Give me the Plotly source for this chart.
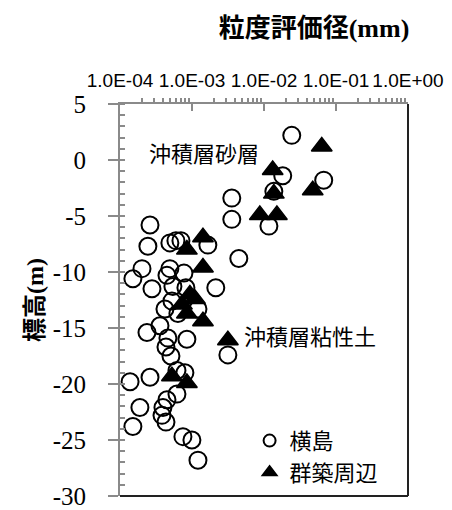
import plotly.graph_objects as go

# ---- data ----
yokoshima_x = [0.0243, 0.0182, 0.0675, 0.0137, 0.00357, 0.00357, 0.0117, 0.000261, 0.000244, 0.000493,
               0.000598, 0.000702, 0.00166, 0.00447, 0.000202, 0.000151, 0.000278, 0.000493, 0.000449, 0.000773,
               0.000823, 0.00214, 0.000543, 0.000526, 0.000421, 0.000637, 0.00121, 0.000237, 0.000359, 0.000463,
               0.000849, 0.000435, 0.000510, 0.00315, 0.000618, 0.000138, 0.000261, 0.000797, 0.000618, 0.000449,
               0.000189, 0.000395, 0.000383, 0.000435, 0.000151, 0.000748, 0.000997, 0.00121]
yokoshima_y = [2.2, -1.4, -1.8, -2.8, -3.4, -5.3, -5.9, -5.8, -7.7, -7.4,
               -7.2, -7.2, -7.6, -8.8, -9.7, -10.6, -11.5, -9.7, -10.3, -10.1,
               -11.4, -11.4, -11.3, -12.6, -13.3, -13.7, -13.3, -15.4, -14.8, -15.9,
               -16.0, -16.7, -17.5, -17.4, -18.8, -19.8, -19.4, -19.0, -20.9, -21.4,
               -22.1, -22.1, -22.8, -23.4, -23.8, -24.7, -25.0, -26.8]

gunchiku_x = [0.0634, 0.0132, 0.0475, 0.0137, 0.00875, 0.0151, 0.00142, 0.000849, 0.00142, 0.000935,
              0.00110, 0.000724, 0.000849, 0.00142, 0.00315, 0.000526, 0.000849]
gunchiku_y = [1.2, -0.9, -2.7, -3.0, -4.9, -4.9, -6.9, -8.0, -9.6, -12.0,
              -12.4, -12.9, -13.7, -14.4, -16.1, -19.3, -19.9]

series_names = ["横島", "群築周辺"]

x_tickvals = [1e-4, 1e-3, 1e-2, 1e-1, 1e0]
x_ticktext = ["1.0E-04", "1.0E-03", "1.0E-02", "1.0E-01", "1.0E+00"]
x_minor = [m * 10 ** e for e in range(-4, 0) for m in range(2, 10)]

y_tickvals = [5, 0, -5, -10, -15, -20, -25, -30]
y_ticktext = ["5", "0", "-5", "-10", "-15", "-20", "-25", "-30"]

x_title = "粒度評価径"
y_title = "標高"
label_sand = "沖積層砂層"
label_clay = "沖積層粘性土"

CJK = "Noto Sans CJK JP"
SERIF = "Liberation Serif, Times New Roman, serif"
SANS = "Liberation Sans, Arial, sans-serif"
AXIS_GRAY = "#8a8a8a"

fig = go.Figure()
fig.add_trace(go.Scatter(
    x=yokoshima_x, y=yokoshima_y, mode="markers", name=series_names[0],
    marker=dict(symbol="circle-open", size=17, color="black", line=dict(width=2, color="black")),
))
fig.add_trace(go.Scatter(
    x=gunchiku_x, y=gunchiku_y, mode="markers", name=series_names[1],
    marker=dict(symbol="triangle-up", size=18, color="black", line=dict(width=1.5, color="black")),
))

fig.update_layout(
    width=452, height=510,
    margin=dict(l=120, r=44, t=104, b=14),
    paper_bgcolor="white", plot_bgcolor="white",
    showlegend=True,
    legend=dict(
        x=0.45, y=0.1, xanchor="left", yanchor="middle",
        bgcolor="rgba(0,0,0,0)", font=dict(family=CJK, size=22, color="black"),
        itemsizing="constant",
    ),
    title=dict(
        text="<b>" + x_title + "<span style='font-family:Liberation Serif'>(mm)</span></b>",
        x=(314 - 120) / 288, xref="paper", xanchor="center",
        y=1 - 28 / 510, yref="container", yanchor="middle",
        font=dict(family=CJK, size=26, color="black"),
    ),
    xaxis=dict(
        type="log", range=[-4, 0], side="top", automargin=False,
        showline=True, linecolor=AXIS_GRAY, linewidth=2,
        showgrid=False, zeroline=False,
        tickmode="array", tickvals=x_tickvals, ticktext=x_ticktext,
        ticks="inside", ticklen=7, tickwidth=1.5, tickcolor=AXIS_GRAY,
        tickfont=dict(family=SANS, size=19, color="black"),
        ticklabelstandoff=7,
        minor=dict(tickmode="array", tickvals=x_minor, ticks="outside", ticklen=4,
                   tickwidth=1.5, tickcolor=AXIS_GRAY, showgrid=False),
    ),
    yaxis=dict(
        range=[-30, 5], automargin=False,
        showline=True, linecolor=AXIS_GRAY, linewidth=2,
        showgrid=False, zeroline=False,
        tickmode="array", tickvals=y_tickvals, ticktext=y_ticktext,
        ticks="outside", ticklen=10, tickwidth=1.5, tickcolor=AXIS_GRAY,
        tickfont=dict(family=SERIF, size=25, color="black"),
        ticklabelstandoff=17,
        ticklabeloverflow="allow",
        minor=dict(dtick=1, ticks="inside", ticklen=5, tickwidth=1.5,
                   tickcolor=AXIS_GRAY, showgrid=False),
        title=dict(
            text="<b>" + y_title + "<span style='font-family:Liberation Serif'>(m)</span></b>",
            font=dict(family=CJK, size=24, color="black"),
            standoff=2,
        ),
    ),
    shapes=[
        dict(type="line", xref="paper", yref="paper", x0=1, x1=1, y0=0, y1=1,
             line=dict(color="#222222", width=2)),
        dict(type="line", xref="paper", yref="paper", x0=0, x1=1, y0=0, y1=0,
             line=dict(color="#222222", width=2)),
    ],
    annotations=[
        dict(text=label_sand, xref="paper", yref="paper", x=(147 - 120) / 288, y=(496 - 152) / 392,
             xanchor="left", yanchor="middle", showarrow=False,
             font=dict(family=CJK, size=22, color="black")),
        dict(text=label_clay, xref="paper", yref="paper", x=(242 - 120) / 288, y=(496 - 335) / 392,
             xanchor="left", yanchor="middle", showarrow=False,
             font=dict(family=CJK, size=22, color="black")),
    ],
)

fig.write_html("out.html", config={"displayModeBar": False},
               post_script="document.body.style.margin='0';")
